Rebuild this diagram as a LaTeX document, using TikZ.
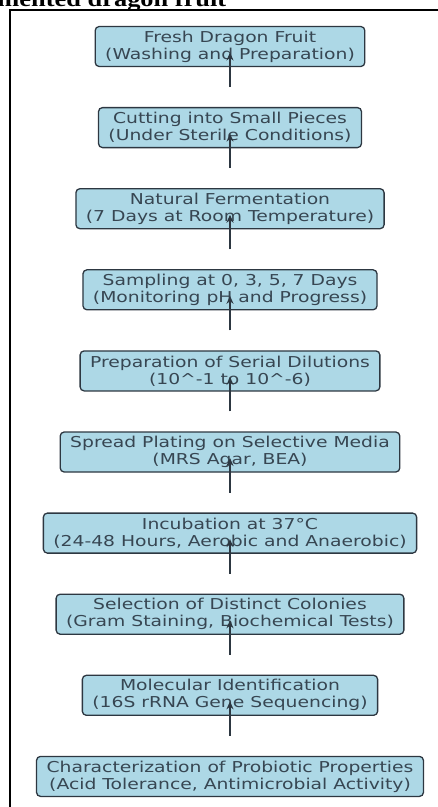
\documentclass[tikz,border=0pt]{standalone}
\usepackage{fontspec}
\usetikzlibrary{positioning}
\usetikzlibrary{calc}
\usetikzlibrary{arrows.meta}
\newfontfamily\stepfont[FakeStretch=1.25]{DejaVu Sans}
\newfontfamily\titlefont[FakeStretch=1.2]{Liberation Serif}
\definecolor{boxblue}{RGB}{173,216,230}
\definecolor{boxline}{RGB}{45,55,65}
\definecolor{boxtext}{RGB}{55,70,82}
\tikzset{every picture/.style={line width=1pt},
stage/.style={draw=boxline,fill=boxblue,rounded corners=4pt,line width=1.3pt,align=center,inner xsep=10pt,inner ysep=3pt,minimum height=40pt,text=boxtext,font=\stepfont\fontsize{15}{17}\selectfont},
flow/.style={-{Stealth[length=8pt,width=7pt]},line width=1.4pt,draw=boxline}}
\begin{document}
\begin{tikzpicture}
\useasboundingbox (0pt,0pt) rectangle (438pt,-807pt);
\clip (0pt,0pt) rectangle (438pt,-807pt);

\node (title) [anchor=base west,inner sep=0pt,font=\titlefont\bfseries\fontsize{22}{22}\selectfont] at (-3pt,-6pt) {mented dragon fruit};
\draw[line width=1.2pt] (438pt,-10pt) -- (10pt,-10pt) -- (10pt,-807pt);

\foreach \i/\top/\bot in {
1/{Fresh Dragon Fruit}/{(Washing and Preparation)},
2/{Cutting into Small Pieces}/{(Under Sterile Conditions)},
3/{Natural Fermentation}/{(7 Days at Room Temperature)},
4/{Sampling at 0, 3, 5, 7 Days}/{(Monitoring pH and Progress)},
5/{Preparation of Serial Dilutions}/{(10\textasciicircum-1 to 10\textasciicircum-6)},
6/{Spread Plating on Selective Media}/{(MRS Agar, BEA)},
7/{Incubation at 37°C}/{(24-48 Hours, Aerobic and Anaerobic)},
8/{Selection of Distinct Colonies}/{(Gram Staining, Biochemical Tests)},
9/{Molecular Identification}/{(16S rRNA Gene Sequencing)},
10/{Characterization of Probiotic Properties}/{(Acid Tolerance, Antimicrobial Activity)}} {
\node (b\i) at ($(230pt,34.6pt)-\i*(0,81.1pt)$) [stage] {\top\\\bot};
}

\foreach \i in {1,...,9} {
\pgfmathtruncatemacro\j{\i+1}
\coordinate (g\i) at ($(b\i.south)!0.5!(b\j.north)$);
\draw[flow] (g\i) -- ([yshift=-6pt]b\i.center);
}

\end{tikzpicture}
\end{document}
